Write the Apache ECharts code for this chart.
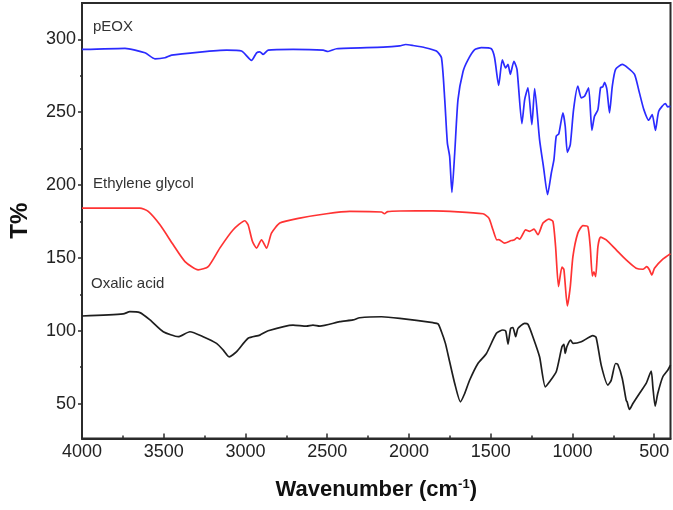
<!DOCTYPE html>
<html>
<head>
<meta charset="utf-8">
<script src="https://cdn.jsdelivr.net/npm/echarts@6/dist/echarts.min.js"></script>
<style>html,body{margin:0;padding:0;background:#fff}#c{width:673px;height:510px}</style>
</head>
<body>
<div id="c"></div>
<script>
const xMajorTicks = [4000, 3500, 3000, 2500, 2000, 1500, 1000, 500];
const xMinorTicks = [3750, 3250, 2750, 2250, 1750, 1250, 750];
const yMajorTicks = [50, 100, 150, 200, 250, 300];
const yMinorTicks = [75, 125, 175, 225, 275];

const seriesNames = ['pEOX', 'Ethylene glycol', 'Oxalic acid'];

const pEOXWn = [4000,3992,3737,3615,3554,3493,3452,3279,3116,3024,2963,2932,2912,2892,2861,2709,2525,2495,2443,2158,2056,2020,1975,1900,1832,1801,1781,1765,1751,1737,1720,1700,1669,1639,1598,1557,1496,1476,1451,1429,1409,1394,1380,1358,1339,1309,1292,1272,1248,1231,1201,1176,1152,1129,1113,1099,1083,1058,1044,1031,1013,993,967,946,926,901,881,865,844,828,814,803,789,773,756,736,695,661,620,590,563,533,512,492,472,431,417,400];
const pEOXT = [293.1,293.1,293.8,290.8,286.7,287.4,289.2,291.3,292.6,292,285.6,290.8,291.5,289.7,292.6,293.1,292.6,291.7,293.6,294.7,295.6,296.5,295.8,294.3,292,287.4,258.7,229,219.7,195,222,258.7,278,286,293,294.3,293.6,287.4,268.4,286,280.5,282.8,276,285,279.4,242.2,258.7,266.8,241.5,266.3,231.2,211.7,193.4,208.3,217.4,233.5,235.3,249.6,240.4,222.5,227.8,251.8,267.9,259.9,261,266.8,237.6,247.2,251.8,266.8,267.5,270.6,265.6,249.6,267.9,279.4,282.8,280.5,276,263.3,251.8,244.5,248.4,237.6,250.7,256,253.7,254];

const egWn = [4000,3992,3646,3595,3523,3442,3370,3289,3228,3157,3075,3004,2984,2957,2932,2902,2871,2841,2790,2668,2504,2362,2168,2150,2130,2056,1853,1547,1511,1486,1462,1450,1415,1374,1354,1339,1323,1286,1262,1235,1211,1180,1144,1119,1103,1085,1064,1052,1031,1013,997,967,936,906,891,878,869,858,844,828,793,732,671,610,569,545,530,514,498,447,400];
const egT = [184.2,184.2,184.2,181.9,172.7,159,147.5,141.8,144,156.7,169.3,175.5,172.7,161.2,156.7,162.4,156.7,167,173.9,177.3,180.3,181.9,181.5,180.3,181.8,182.2,182.3,180.3,177.3,169.3,162.4,162.5,160.1,161.9,162.4,164,162.9,169.3,168.2,169.8,165.9,173.9,176.6,175,157.8,130.3,143.6,142,117,130.3,150.9,167,172.2,171.5,157.8,137.6,140.5,137.2,157.8,164.3,162.4,155.5,148.6,142.9,142.2,144,142,138.3,142.9,149.1,152.8];

const oaWn = [4000,3748,3707,3646,3584,3503,3411,3340,3259,3177,3136,3100,3054,2984,2912,2861,2709,2627,2587,2545,2423,2342,2301,2168,2056,1853,1822,1801,1777,1751,1720,1685,1659,1629,1578,1526,1465,1425,1408,1394,1378,1364,1347,1333,1292,1272,1242,1201,1166,1140,1099,1064,1052,1044,1034,1011,997,946,875,855,824,783,763,736,722,695,671,665,651,630,590,549,518,508,494,478,447,417,400];
const oaT = [110.1,111.5,113.1,112.4,107.4,99.3,95.9,99.3,95.9,91.3,86.7,82.1,85.6,94.8,97,100,103.9,103.2,103.9,103.2,106.2,107.4,108.9,109.6,108.5,105.5,104.7,99.3,91.3,78.7,63.8,51.2,56.9,66,77.5,84.4,98.2,100.5,99.8,90.8,101.6,102.2,95.9,101.6,105.1,104.4,95.9,82.1,61.5,64.9,71.8,89,90.6,84.4,89,93.6,91.3,92.4,96.6,95.4,76.4,62.7,65.9,77.5,76.8,67.2,52.2,51,45.9,50,56.9,63.8,72.3,61.5,48.2,56.9,68.4,72.9,76.4];

const zip = (a, b) => a.map((v, i) => [v, b[i]]);

const chart = echarts.init(document.getElementById('c'));
const FONT = 'Liberation Sans, Arial, sans-serif';
const xMin = 400, xMax = 4000, yMin = 26, yMax = 325;
const plain = v => String(v);

const mkLine = (name, data, color) => ({
  name, type: 'line', data, showSymbol: false, smooth: 0.2,
  lineStyle: { color, width: 1.7 }, itemStyle: { color }, z: 3
});

chart.setOption({
  animation: false,
  grid: { left: 82, right: 2.5, top: 3, bottom: 71.5, show: true, borderColor: '#2b2b2b', borderWidth: 2, backgroundColor: '#fff' },
  xAxis: [
    {
      type: 'value', inverse: true, min: xMin, max: xMax,
      axisLine: { show: true, lineStyle: { color: '#2b2b2b', width: 2 } },
      axisTick: { show: true, inside: true, length: 5, customValues: xMajorTicks, lineStyle: { color: '#2b2b2b', width: 1.5 } },
      axisLabel: { customValues: xMajorTicks, formatter: plain, fontFamily: FONT, fontSize: 18, color: '#222', margin: 5 },
      splitLine: { show: false },
      name: 'Wavenumber (cm{sup|-1})',
      nameLocation: 'middle', nameGap: 39,
      nameTextStyle: {
        fontFamily: FONT, fontSize: 22, fontWeight: 'bold', color: '#111',
        rich: { sup: { fontFamily: FONT, fontSize: 13, fontWeight: 'bold', color: '#111', verticalAlign: 'top', padding: [0, 0, 12, 0] } }
      }
    },
    {
      type: 'value', inverse: true, min: xMin, max: xMax, position: 'bottom',
      axisLine: { show: false },
      axisTick: { show: true, inside: true, length: 3, customValues: xMinorTicks, lineStyle: { color: '#2b2b2b', width: 1.5 } },
      axisLabel: { show: false }, splitLine: { show: false }
    }
  ],
  yAxis: [
    {
      type: 'value', min: yMin, max: yMax,
      axisLine: { show: true, lineStyle: { color: '#2b2b2b', width: 2 } },
      axisTick: { show: true, inside: false, length: 4, customValues: yMajorTicks, lineStyle: { color: '#2b2b2b', width: 1.5 } },
      axisLabel: { customValues: yMajorTicks, formatter: plain, fontFamily: FONT, fontSize: 18, color: '#222', margin: 6 },
      splitLine: { show: false },
      name: 'T%', nameLocation: 'middle', nameGap: 50, nameRotate: 90,
      nameTextStyle: { fontFamily: FONT, fontSize: 24, fontWeight: 'bold', color: '#111' }
    },
    {
      type: 'value', min: yMin, max: yMax, position: 'left',
      axisLine: { show: false },
      axisTick: { show: true, inside: false, length: 2, customValues: yMinorTicks, lineStyle: { color: '#2b2b2b', width: 1.5 } },
      axisLabel: { show: false }, splitLine: { show: false }
    }
  ],
  graphic: [
    { type: 'text', left: 93, top: 19, style: { text: seriesNames[0], fontFamily: FONT, fontSize: 15, fill: '#333' } },
    { type: 'text', left: 93, top: 176, style: { text: seriesNames[1], fontFamily: FONT, fontSize: 15, fill: '#333' } },
    { type: 'text', left: 91, top: 276, style: { text: seriesNames[2], fontFamily: FONT, fontSize: 15, fill: '#333' } }
  ],
  series: [
    mkLine(seriesNames[0], zip(pEOXWn, pEOXT), '#2b2bff'),
    mkLine(seriesNames[1], zip(egWn, egT), '#ff3333'),
    mkLine(seriesNames[2], zip(oaWn, oaT), '#1e1e1e')
  ]
});
</script>
</body>
</html>
